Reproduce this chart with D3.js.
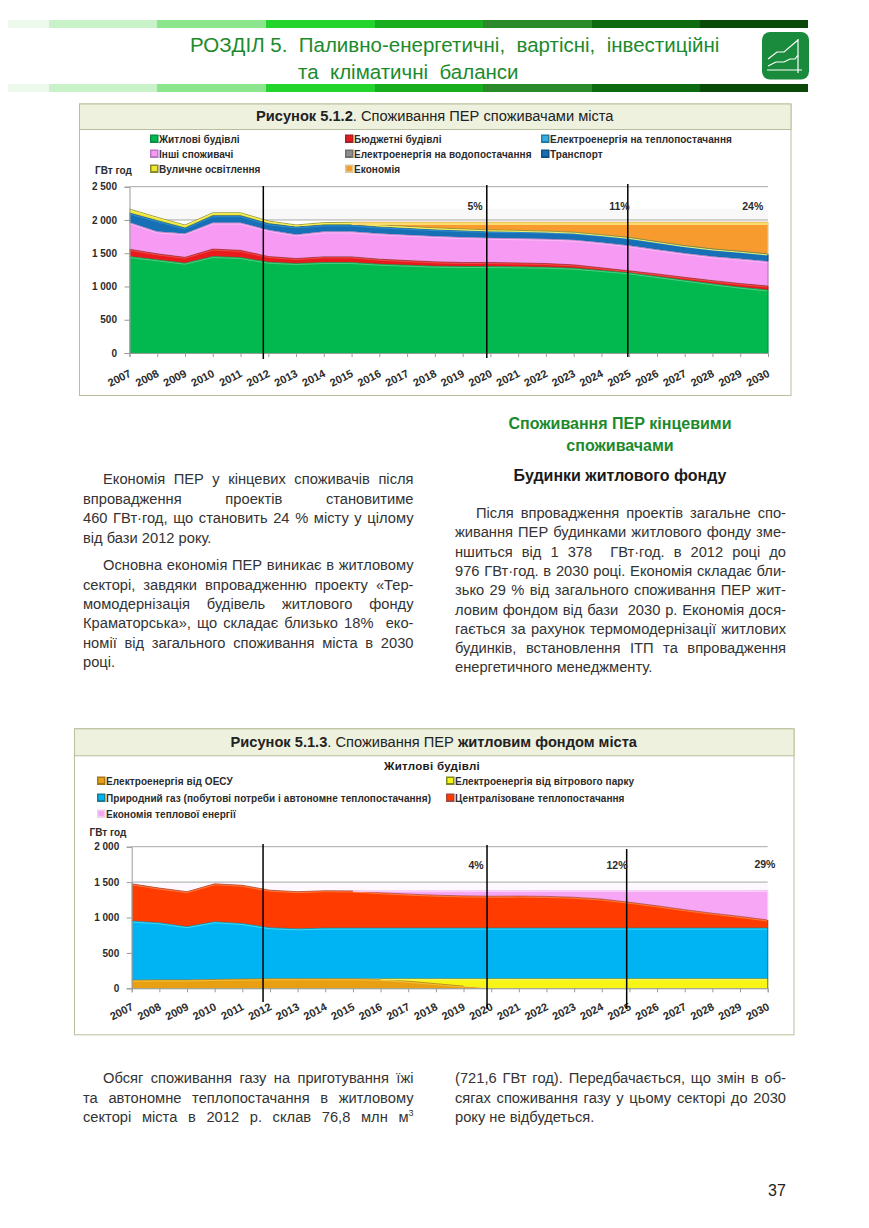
<!DOCTYPE html>
<html>
<head>
<meta charset="utf-8">
<script src="https://cdn.jsdelivr.net/npm/d3@7"></script>
<style>
  html, body { margin: 0; padding: 0; background: #fff; }
  svg { display: block; }
  text { font-family: "Liberation Sans", Arial, sans-serif; }
</style>
</head>
<body>
<div id="page"></div>
<script>
// ---- chart data ----
const years = d3.range(2007, 2031);

// Figure 5.1.2, GWh per year
const residential = [1450,1400,1350,1450,1435,1365,1345,1360,1360,1335,1320,1305,1300,1300,1295,1290,1275,1240,1205,1150,1095,1040,990,947];
const publicBuildings = [110,90,88,112,108,85,75,85,85,75,70,65,60,60,58,55,50,40,30,38,42,48,54,60];
const heatElectricity = [5,5,5,5,5,5,5,5,5,5,5,5,5,5,5,5,5,5,5,5,5,5,5,5];
const otherConsumers = [393,325,347,386,405,390,350,370,370,375,375,375,370,360,360,360,365,370,370,357,353,352,361,361];
const waterElectricity = [5,5,5,5,5,5,5,5,5,5,5,5,5,5,5,5,5,5,5,5,5,5,5,5];
const transport = [140,165,83,106,106,95,115,100,100,100,100,100,100,100,102,103,105,110,115,115,110,110,110,107];
const streetLighting = [61,50,46,44,44,40,30,35,40,30,28,25,25,20,18,15,12,10,8,6,5,5,5,5];
const savings = [0,0,0,0,0,0,0,0,5,45,67,90,105,120,127,137,153,190,232,294,355,405,440,480];

// Figure 5.1.3, GWh per year
const gridElectricity = [115,118,118,125,130,135,135,135,135,128,100,65,30,0,0,0,0,0,0,0,0,0,0,0];
const windElectricity = [0,0,0,0,0,0,0,0,0,7,35,70,105,135,135,135,135,135,135,135,135,135,135,135];
const naturalGas = [835,807,752,815,785,720,705,715,715,715,715,715,715,715,715,715,715,715,715,715,715,715,715,715];
const districtHeat = [525,490,495,535,540,530,525,528,525,500,480,465,455,450,452,448,435,410,365,315,260,210,165,115];
const heatSavings = [0,0,0,0,0,0,0,0,5,30,50,65,75,80,78,82,95,120,165,215,270,320,365,420];

// ---- page text ----
const headerLines = ["РОЗДІЛ 5.  Паливно-енергетичні,  вартісні,  інвестиційні", "та  кліматичні  баланси"];
const headerBandColors = ["#eef9ee", "#c9f2c9", "#8ce58c", "#22d42c", "#18ae20", "#2a8a2a", "#0d6a10", "#0a4a08"];
const headerBandStops = [8, 49, 157, 266, 375, 483, 592, 700, 808];

const leftColumn = [
  { t: "Економія ПЕР у кінцевих споживачів після", y: 484, indent: true, just: true },
  { t: "впровадження проектів становитиме", y: 503.5, just: true },
  { t: "460 ГВт·год, що становить 24 % місту у цілому", y: 523, just: true },
  { t: "від бази 2012 року.", y: 542.5 },
  { t: "Основна економія ПЕР виникає в житловому", y: 570, indent: true, just: true },
  { t: "секторі, завдяки впровадженню проекту «Тер-", y: 589.5, just: true },
  { t: "момодернізація будівель житлового фонду", y: 609, just: true },
  { t: "Краматорська», що складає близько 18%  еко-", y: 628, just: true },
  { t: "номії від загального споживання міста в 2030", y: 647.5, just: true },
  { t: "році.", y: 667 }
];
const rightColumn = [
  { t: "Після впровадження проектів загальне спо-", y: 518, indent: true, just: true },
  { t: "живання ПЕР будинками житлового фонду зме-", y: 537, just: true },
  { t: "ншиться від 1 378  ГВт·год. в 2012 році до", y: 556.5, just: true },
  { t: "976 ГВт·год. в 2030 році. Економія складає бли-", y: 576, just: true },
  { t: "зько 29 % від загального споживання ПЕР жит-", y: 595, just: true },
  { t: "ловим фондом від бази  2030 р. Економія дося-", y: 614.5, just: true },
  { t: "гається за рахунок термомодернізації житлових", y: 634, just: true },
  { t: "будинків, встановлення ІТП та впровадження", y: 653, just: true },
  { t: "енергетичного менеджменту.", y: 672 }
];
const bottomLeft = [
  { t: "Обсяг споживання газу на приготування їжі", y: 1083, indent: true, just: true },
  { t: "та автономне теплопостачання в житловому", y: 1103, just: true },
  { t: "секторі міста в 2012 р. склав 76,8 млн м", y: 1122, just: true, sup: "3" }
];
const bottomRight = [
  { t: "(721,6 ГВт год). Передбачається, що змін в об-", y: 1083, just: true },
  { t: "сягах споживання газу у цьому секторі до 2030", y: 1103, just: true },
  { t: "року не відбудеться.", y: 1122 }
];

const svg = d3.select("#page").append("svg").attr("width", 869).attr("height", 1228);
const fmt = d3.formatLocale({ decimal: ",", thousands: " ", grouping: [3], currency: ["", ""] }).format(",d");
const textColor = "#2b2b2b";

// page header strips, title and icon
[20, 84].forEach(y => {
  svg.append("g").selectAll("rect").data(headerBandColors).join("rect")
    .attr("x", (d, i) => headerBandStops[i])
    .attr("y", y)
    .attr("width", (d, i) => headerBandStops[i + 1] - headerBandStops[i])
    .attr("height", 8)
    .attr("fill", d => d);
});
svg.append("text").attr("x", 190).attr("y", 52).attr("font-size", 20.5).attr("fill", "#1c8a2c")
  .style("white-space", "pre").text(headerLines[0]);
svg.append("text").attr("x", 298).attr("y", 79).attr("font-size", 20.5).attr("fill", "#1c8a2c")
  .style("white-space", "pre").text(headerLines[1]);

const icon = svg.append("g").attr("transform", "translate(762,32)");
icon.append("rect").attr("width", 47).attr("height", 47.5).attr("rx", 8).attr("fill", "#1a8a3c");
icon.append("path").attr("fill", "none").attr("stroke", "#fff").attr("stroke-width", 1.2)
  .attr("d", "M5,38H40M36,7V41M6,27L15,20H22L36,8M6,34L14,30H22L28,27H33L36,23");

// justified paragraph lines, word spacing worked out from the measured width
function drawColumn(lines, left, right, indent) {
  lines.forEach(line => {
    const x = line.indent ? left + indent : left;
    const el = svg.append("text").attr("x", x).attr("y", line.y)
      .attr("font-size", 14.7).attr("fill", "#333").style("white-space", "pre").text(line.t);
    if (line.sup) el.append("tspan").attr("dy", -6).attr("font-size", 9).text(line.sup);
    if (line.just) {
      const gaps = line.t.split(" ").length - 1;
      const extra = (right - x - el.node().getComputedTextLength()) / gaps;
      el.style("word-spacing", extra + "px");
    }
  });
}
drawColumn(leftColumn, 83, 413.5, 20);
drawColumn(rightColumn, 455, 786, 21);
drawColumn(bottomLeft, 83, 413.5, 20);
drawColumn(bottomRight, 455, 786, 21);

svg.selectAll("text.heading").data([
  { t: "Споживання ПЕР кінцевими", y: 429, fill: "#1c8a2c" },
  { t: "споживачами", y: 450.5, fill: "#1c8a2c" },
  { t: "Будинки житлового фонду", y: 480.5, fill: "#1a1a1a" }
]).join("text").attr("class", "heading")
  .attr("x", 620).attr("y", d => d.y).attr("text-anchor", "middle")
  .attr("font-size", 16).attr("font-weight", "bold").attr("fill", d => d.fill).text(d => d.t);

svg.append("text").attr("x", 777).attr("y", 1196).attr("text-anchor", "middle")
  .attr("font-size", 16).attr("fill", "#222").text("37");

// one framed figure: caption strip, legend, stacked area plot
function drawFigure(cfg) {
  const g = svg.append("g");
  g.append("rect").attr("x", cfg.box[0] + 0.5).attr("y", cfg.box[1] + 0.5)
    .attr("width", cfg.box[2]).attr("height", cfg.box[3])
    .attr("fill", "#fff").attr("stroke", "#b9bf9c");
  g.append("rect").attr("x", cfg.box[0] + 0.5).attr("y", cfg.box[1] + 0.5)
    .attr("width", cfg.box[2]).attr("height", cfg.headH)
    .attr("fill", "#eff1df").attr("stroke", "#b9bf9c");

  const caption = g.append("text").attr("x", cfg.box[0] + cfg.box[2] / 2).attr("y", cfg.box[1] + cfg.headH / 2 + 5)
    .attr("text-anchor", "middle").attr("font-size", 14.65).attr("fill", "#222");
  cfg.caption.forEach(c => caption.append("tspan").attr("font-weight", c.b ? "bold" : "normal").text(c.t));

  const x = d3.scaleLinear().domain([2007, 2030]).range(cfg.xRange);
  const y = d3.scaleLinear().domain([0, cfg.yMax]).range(cfg.yRange);

  // faint wash behind the top of the stack
  g.append("rect").attr("x", x(2007)).attr("width", x(2030) - x(2007))
    .attr("y", y(cfg.wash[1])).attr("height", y(cfg.wash[0]) - y(cfg.wash[1]))
    .attr("fill", cfg.wash[2]);

  // grid, only the lines above the stack actually show
  g.append("g").selectAll("line").data(cfg.yTicks).join("line")
    .attr("x1", x(2007)).attr("x2", x(2030))
    .attr("y1", d => y(d)).attr("y2", d => y(d))
    .attr("stroke", "#a8a8a8");

  const keys = cfg.series.map(s => s.name);
  const rows = years.map((yr, i) => {
    const row = { year: yr };
    cfg.series.forEach(s => { row[s.name] = s.values[i]; });
    return row;
  });
  const layers = d3.stack().keys(keys)(rows);
  const area = d3.area().x(d => x(d.data.year)).y0(d => y(d[0])).y1(d => y(d[1]));

  g.append("g").selectAll("path").data(layers).join("path")
    .attr("d", area)
    .attr("fill", (d, i) => cfg.series[i].color);

  // bevelled top edge of each band
  const edge = d3.line()
    .defined(d => d[1] - d[0] > 0)
    .x(d => x(d.data.year)).y(d => y(d[1]));
  const edges = g.append("g").attr("fill", "none");
  layers.forEach((layer, i) => {
    const s = cfg.series[i];
    if (s.hideEdge) return;
    const lw = s.lightWidth || 1;
    edges.append("path").attr("d", edge(layer)).attr("stroke", s.shade).attr("stroke-width", 0.8);
    edges.append("path").attr("d", edge(layer)).attr("stroke", s.light).attr("stroke-width", lw)
      .attr("transform", `translate(0,${0.5 + lw / 2})`);
  });
  // dark right side of the stack
  layers.forEach((layer, i) => {
    const last = layer[layer.length - 1];
    g.append("line").attr("x1", x(2030)).attr("x2", x(2030))
      .attr("y1", y(last[0])).attr("y2", y(last[1]))
      .attr("stroke", cfg.series[i].shade).attr("stroke-width", 1.2);
  });

  // axes
  const axisY = g.append("g").attr("transform", `translate(${x(2007)},0)`)
    .call(d3.axisLeft(y).tickValues(cfg.yTicks).tickFormat(fmt).tickSize(5));
  const axisX = g.append("g").attr("transform", `translate(0,${y(0)})`)
    .call(d3.axisBottom(x).tickValues(years).tickFormat(d3.format("d")).tickSize(4));
  [axisY, axisX].forEach(a => {
    a.selectAll("path").attr("stroke", "#9a9a9a");
    a.selectAll("line").attr("stroke", "#9a9a9a");
    a.selectAll("text").attr("font-family", '"Liberation Sans"').attr("font-size", 10).attr("font-weight", "bold").attr("fill", textColor);
  });
  axisY.selectAll("text").attr("x", -12.5);
  axisX.selectAll("text")
    .attr("font-size", 11)
    .attr("text-anchor", "end")
    .attr("x", 0).attr("y", 0).attr("dy", 0)
    .attr("transform", `translate(2,${cfg.labelDrop}) rotate(-27)`);

  g.append("text").attr("x", cfg.unit[0]).attr("y", cfg.unit[1])
    .attr("font-size", 10).attr("font-weight", "bold").attr("fill", textColor).text("ГВт год");

  // milestone lines and savings shares
  g.append("g").selectAll("line").data(cfg.markers).join("line")
    .attr("x1", d => x(d.year)).attr("x2", d => x(d.year))
    .attr("y1", d => d.top).attr("y2", d => d.bottom)
    .attr("stroke", "#000").attr("stroke-width", 1.5);
  g.append("g").selectAll("text").data(cfg.shares).join("text")
    .attr("x", d => x(d.year)).attr("y", d => y(d.value))
    .attr("text-anchor", "middle").attr("font-size", 10.5).attr("font-weight", "bold")
    .attr("fill", textColor).text(d => d.label);

  // legend
  const item = g.append("g").selectAll("g").data(cfg.legend).join("g")
    .attr("transform", d => `translate(${d.x},${d.y})`);
  item.append("rect").attr("x", 0).attr("y", -4.5).attr("width", 8.5).attr("height", 8.5)
    .attr("fill", d => cfg.series[d.i].shade);
  item.append("rect").attr("x", 1.5).attr("y", -3).attr("width", 5.5).attr("height", 5)
    .attr("fill", d => cfg.series[d.i].color);
  item.append("text").attr("x", 9).attr("y", 3.5)
    .attr("font-size", 10).attr("font-weight", "bold").attr("fill", textColor)
    .attr("letter-spacing", 0.07)
    .text(d => cfg.series[d.i].name);

  if (cfg.subtitle) {
    g.append("text").attr("x", cfg.subtitle[0]).attr("y", cfg.subtitle[1]).attr("text-anchor", "middle")
      .attr("font-size", 11.5).attr("font-weight", "bold").attr("fill", "#1a1a1a").attr("letter-spacing", 0.3).text(cfg.subtitle[2]);
  }
}

drawFigure({
  box: [79, 103.5, 711.5, 291.5],
  headH: 25.5,
  caption: [{ t: "Рисунок 5.1.2", b: true }, { t: ". Споживання ПЕР споживачами міста" }],
  xRange: [129.5, 768],
  yRange: [353, 186.7],
  yMax: 2500,
  yTicks: [0, 500, 1000, 1500, 2000, 2500],
  wash: [2000, 2170, "#f8f8f8"],
  labelDrop: 23,
  unit: [95, 173.5],
  series: [
    { name: "Житлові будівлі", values: residential, color: "#02b94f", light: "#49cf80", shade: "#0b8f45" },
    { name: "Бюджетні будівлі", values: publicBuildings, color: "#e81a1e", light: "#ee4a4a", shade: "#a82028" },
    { name: "Електроенергія на теплопостачання", values: heatElectricity, color: "#35aee0", light: "#35aee0", shade: "#1d7fa8", hideEdge: true },
    { name: "Інші споживачі", values: otherConsumers, color: "#f79af3", light: "#fbb9f8", shade: "#b978c4" },
    { name: "Електроенергія на водопостачання", values: waterElectricity, color: "#8e8e8e", light: "#8e8e8e", shade: "#707070", hideEdge: true },
    { name: "Транспорт", values: transport, color: "#176fb5", light: "#2f8fd0", shade: "#14507f" },
    { name: "Вуличне освітлення", values: streetLighting, color: "#eee62f", light: "#f6f06a", shade: "#8a8a30" },
    { name: "Економія", values: savings, color: "#f89b2e", light: "#fbdc70", shade: "#d8c898", lightWidth: 2.5 }
  ],
  legend: [
    { i: 0, x: 150, y: 139 }, { i: 1, x: 345, y: 139 }, { i: 2, x: 541, y: 139 },
    { i: 3, x: 150, y: 154 }, { i: 4, x: 345, y: 154 }, { i: 5, x: 541, y: 154 },
    { i: 6, x: 150, y: 169 }, { i: 7, x: 345, y: 169 }
  ],
  markers: [
    { year: 2011.82, top: 186, bottom: 359 },
    { year: 2019.87, top: 185, bottom: 358 },
    { year: 2024.95, top: 184, bottom: 357 }
  ],
  shares: [
    { year: 2019.45, value: 2155, label: "5%" },
    { year: 2024.65, value: 2155, label: "11%" },
    { year: 2029.45, value: 2155, label: "24%" }
  ]
});

drawFigure({
  box: [74, 728.3, 719.5, 306],
  headH: 27,
  caption: [{ t: "Рисунок 5.1.3", b: true }, { t: ". Споживання ПЕР " }, { t: "житловим фондом міста", b: true }],
  xRange: [131.7, 767.7],
  yRange: [988.3, 846.7],
  yMax: 2000,
  yTicks: [0, 500, 1000, 1500, 2000],
  wash: [1385, 1500, "#fdf8fd"],
  labelDrop: 21,
  unit: [89.5, 836],
  subtitle: [432, 770, "Житлові будівлі"],
  series: [
    { name: "Електроенергія від ОЕСУ", values: gridElectricity, color: "#e8a012", light: "#f7c030", shade: "#a8761a" },
    { name: "Електроенергія від вітрового парку", values: windElectricity, color: "#f6f516", light: "#fbfa70", shade: "#7f8a20" },
    { name: "Природний газ (побутові потреби і автономне теплопостачання)", values: naturalGas, color: "#00b4f4", light: "#38dcf0", shade: "#137f9c" },
    { name: "Централізоване теплопостачання", values: districtHeat, color: "#ff3b00", light: "#ff7a3a", shade: "#a8483a" },
    { name: "Економія теплової енергії", values: heatSavings, color: "#f6a6f4", light: "#fbd2fa", shade: "#f0d0f0" }
  ],
  legend: [
    { i: 0, x: 97, y: 781 }, { i: 1, x: 446, y: 781 },
    { i: 2, x: 97, y: 798 }, { i: 3, x: 446, y: 798 },
    { i: 4, x: 97, y: 814 }
  ],
  markers: [
    { year: 2011.75, top: 844, bottom: 1002 },
    { year: 2019.85, top: 845, bottom: 1009 },
    { year: 2024.9, top: 849, bottom: 1009 }
  ],
  shares: [
    { year: 2019.45, value: 1690, label: "4%" },
    { year: 2024.55, value: 1690, label: "12%" },
    { year: 2029.9, value: 1700, label: "29%" }
  ]
});
</script>
</body>
</html>
